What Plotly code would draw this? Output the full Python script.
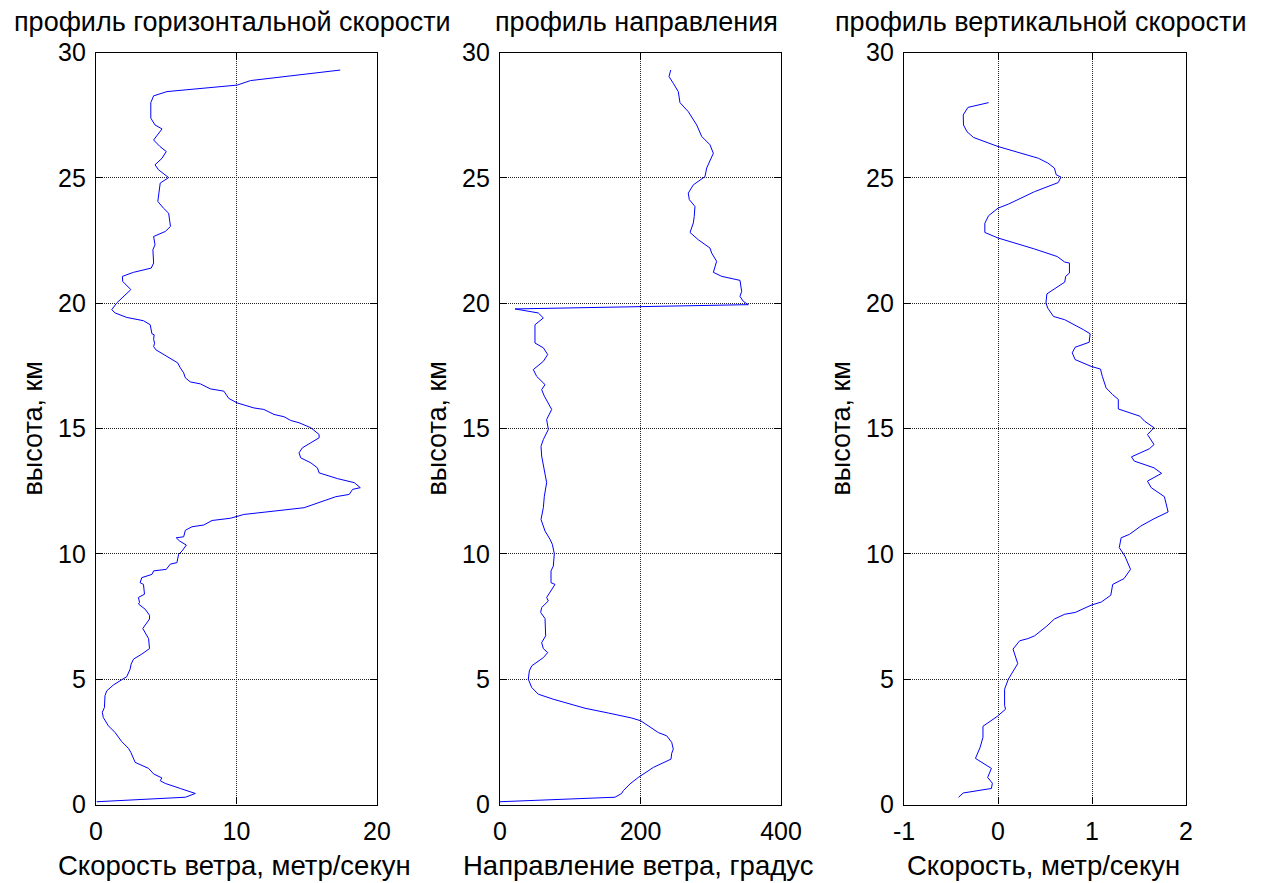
import plotly.graph_objects as go

# ---- data ----
h_speed = [29.30, 28.88, 28.70, 28.44, 28.27, 28.00, 27.38, 27.11, 26.95, 26.51, 26.25, 26.05, 25.78, 25.52,
           25.32, 25.01, 24.79, 24.39, 24.06, 23.79, 23.59, 23.06, 22.86, 22.66, 22.33, 22.13, 21.60, 21.40,
           21.23, 21.07, 20.87, 20.54, 20.21, 20.01, 19.74, 19.61, 19.43, 19.30, 19.14, 18.78, 18.74, 18.56,
           18.40, 18.27, 18.14, 17.88, 17.62, 17.42, 17.22, 17.02, 16.86, 16.78, 16.58, 16.49, 16.20, 16.02,
           15.82, 15.76, 15.56, 15.47, 15.32, 15.23, 15.03, 14.76, 14.63, 14.43, 14.23, 14.03, 13.83, 13.63,
           13.43, 13.23, 13.00, 12.84, 12.64, 12.57, 12.37, 12.28, 11.84, 11.57, 11.48, 11.42, 11.33, 11.15,
           11.08, 10.94, 10.68, 10.64, 10.51, 10.35, 10.11, 9.98, 9.65, 9.59, 9.38, 9.32, 9.18, 9.05, 8.85,
           8.78, 8.39, 8.26, 8.06, 8.00, 7.79, 7.55, 7.40, 7.02, 6.62, 6.22, 6.00, 5.80, 5.60, 5.40, 5.10,
           4.93, 4.77, 4.53, 4.34, 3.87, 3.68, 3.47, 3.14, 2.87, 2.68, 2.51, 2.24, 2.08, 1.68, 1.44, 1.22,
           1.06, 0.95, 0.84, 0.64, 0.44, 0.29, 0.11]
speed = [17.38, 11.0, 10.05, 5.05, 4.1, 3.9, 3.9, 4.2, 4.7, 4.1, 4.55, 5.0, 4.7, 4.2,
         4.45, 5.17, 4.57, 4.45, 4.4, 4.8, 5.17, 5.3, 4.93, 4.1, 4.2, 4.05, 4.1, 3.93,
         2.67, 1.88, 1.9, 2.48, 1.83, 1.48, 1.12, 1.36, 2.19, 3.38, 3.86, 3.98, 4.14, 4.1,
         4.17, 4.1, 4.26, 5.05, 5.81, 6.0, 6.24, 6.36, 6.71, 7.43, 8.14, 9.1, 9.45, 10.05,
         11.24, 11.95, 12.67, 13.38, 13.86, 14.45, 15.29, 15.88, 15.88, 15.29, 14.69, 14.45, 14.57, 15.29,
         15.76, 15.88, 17.19, 18.38, 18.81, 18.26, 18.02, 17.07, 14.81, 10.52, 10.05, 9.57, 8.26, 7.67,
         6.83, 6.36, 6.24, 5.71, 5.95, 6.43, 6.12, 5.88, 5.76, 5.29, 5.0, 4.1, 3.98, 3.26, 3.14,
         3.38, 3.45, 3.02, 3.1, 3.02, 3.5, 3.81, 3.81, 3.33, 3.74, 3.81, 3.26, 2.67, 2.5, 2.43, 2.19,
         1.71, 1.24, 0.76, 0.64, 0.6, 0.45, 0.52, 0.88, 1.36, 1.6, 1.83, 2.31, 2.48, 2.79, 3.74, 4.1,
         4.69, 4.57, 4.93, 6.0, 7.07, 6.36, 0.05]

h_dir = [29.30, 29.04, 28.77, 28.44, 28.00, 27.64, 27.11, 26.65, 26.32, 25.98, 25.39, 25.05, 24.72, 24.39,
         24.13, 23.86, 23.46, 23.20, 22.82, 22.53, 22.20, 22.00, 21.67, 21.23, 21.07, 20.91, 20.47, 20.27,
         20.07, 19.94, 19.77, 19.61, 19.41, 19.14, 18.41, 18.22, 17.95, 17.68, 17.35, 17.08, 16.75, 16.55,
         16.29, 15.76, 15.36, 14.96, 14.56, 14.29, 13.90, 13.37, 12.84, 12.30, 11.84, 11.37, 10.91, 10.58,
         10.38, 10.01, 9.51, 9.32, 8.85, 8.78, 8.52, 8.26, 8.12, 7.86, 7.66, 7.42, 6.73, 6.46, 6.22, 6.06,
         5.86, 5.53, 5.33, 5.00, 4.67, 4.40, 4.20, 4.00, 3.84, 3.65, 3.45, 3.34, 3.14, 2.87, 2.74, 2.48,
         2.21, 2.04, 1.81, 1.48, 1.08, 0.82, 0.55, 0.44, 0.29, 0.11]
direction = [243, 240.6, 246.7, 253.8, 256.2, 268, 280, 287.1, 298.9, 303.7, 294.2, 291.8, 275.2, 268,
             269.5, 277.5, 276.5, 275.2, 270.5, 282.3, 298.9, 301.3, 308.4, 303.7, 315.6, 341.6, 344, 341.6,
             346.4, 353.5, 21.4, 54.5, 61.7, 49.8, 49.8, 61.7, 67.9, 61.7, 47.4, 52.2, 64.1, 59.3,
             63.1, 73.6, 66.4, 68.8, 61.7, 58.4, 59.3, 63.1, 66.4, 63.1, 61.7, 58.4, 64.1, 71.2,
             74.5, 77.3, 75.9, 72.6, 72.6, 78.3, 72.6, 66.4, 68.8, 59.3, 57.9, 64.1, 65.0, 59.3, 61.7, 67.9,
             61.7, 45.1, 41.8, 40.3, 45.1, 54.5, 75.9, 102, 121, 154.2, 187.5, 200.3, 211.1, 225.4, 237.3, 244.4,
             246.7, 244.4, 243.4, 218.3, 196.9, 185, 175.5, 173.2, 163.7, 0]

h_vert = [28.00, 27.81, 27.51, 27.11, 26.84, 26.61, 26.25, 25.78, 25.59, 25.39, 25.12, 25.03, 24.81, 24.45,
          23.95, 23.79, 23.49, 23.19, 22.82, 22.60, 22.16, 21.86, 21.64, 21.60, 21.20, 21.07, 20.84, 20.61,
          20.37, 20.00, 19.80, 19.47, 19.34, 18.94, 18.78, 18.44, 18.37, 18.24, 18.02, 17.75, 17.48, 17.37,
          17.08, 16.62, 16.35, 16.16, 15.78, 15.62, 15.49, 15.29, 15.03, 14.76, 14.36, 14.19, 13.87, 13.70,
          13.43, 13.21, 12.90, 12.64, 12.28, 11.67, 11.40, 11.11, 10.78, 10.64, 10.25, 9.91, 9.38, 9.01,
          8.78, 8.35, 8.08, 7.95, 7.66, 7.59, 7.40, 7.12, 6.73, 6.62, 6.53, 6.20, 5.62, 5.00, 4.60, 3.96,
          3.80, 3.51, 3.27, 3.12, 2.68, 2.28, 1.84, 1.44, 1.08, 0.85, 0.64, 0.46, 0.29]
vert = [-0.10, -0.32, -0.37, -0.367, -0.33, -0.26, 0.0, 0.43, 0.53, 0.60, 0.62, 0.67, 0.64, 0.39,
        0.11, 0.0, -0.10, -0.14, -0.14, 0.0, 0.39, 0.63, 0.71, 0.76, 0.76, 0.72, 0.71, 0.62,
        0.52, 0.51, 0.53, 0.59, 0.71, 0.91, 0.98, 0.97, 0.91, 0.82, 0.79, 0.82, 0.99, 1.09,
        1.11, 1.15, 1.22, 1.28, 1.28, 1.42, 1.51, 1.56, 1.66, 1.59, 1.66, 1.61, 1.42, 1.45,
        1.66, 1.74, 1.59, 1.63, 1.77, 1.81, 1.66, 1.52, 1.40, 1.31, 1.29, 1.35, 1.41, 1.34,
        1.22, 1.20, 1.10, 0.99, 0.82, 0.71, 0.60, 0.52, 0.39, 0.32, 0.23, 0.16, 0.21, 0.11, 0.07, 0.07,
        0.08, -0.01, -0.10, -0.16, -0.16, -0.19, -0.24, -0.07, -0.11, -0.06, -0.07, -0.37, -0.42]

titles = ["профиль горизонтальной скорости", "профиль направления", "профиль вертикальной скорости"]
x_titles = ["Скорость ветра, метр/секун", "Направление ветра, градус", "Скорость, метр/секун"]
y_title = "высота, км"

x_ranges = [[0, 20], [0, 400], [-1, 2]]
x_tickvals = [[0, 10, 20], [0, 200, 400], [-1, 0, 1, 2]]
x_ticktext = [["0", "10", "20"], ["0", "200", "400"], ["-1", "0", "1", "2"]]
y_tickvals = [0, 5, 10, 15, 20, 25, 30]
y_ticktext = ["0", "5", "10", "15", "20", "25", "30"]

# ---- layout geometry (target pixels in the 1265x883 window) ----
OFF = 8                       # page body margin
W, H = 1265 - OFF, 883 - OFF  # figure size so that it fits the window
FONT = "Liberation Sans, Arial, sans-serif"
FS_TICK = 25
FS_TEXT = 27
FS_XLAB = 27.5
x_px = [(96, 377), (500, 781), (904, 1186)]
y_top, y_bot = 52.5, 804.5


def fx(px):
    return (px - OFF) / W


def fy(py):
    return 1 - (py - OFF) / H


fig = go.Figure()

series = [(speed, h_speed), (direction, h_dir), (vert, h_vert)]
for i, (xs, ys) in enumerate(series):
    n = "" if i == 0 else str(i + 1)
    fig.add_trace(go.Scatter(x=xs, y=ys, mode="lines",
                             line=dict(color="#0000ff", width=1),
                             xaxis="x" + n, yaxis="y" + n, showlegend=False,
                             hoverinfo="skip"))
    axis_common = dict(showline=True, linecolor="black", linewidth=1.3, mirror="allticks",
                       ticks="inside", ticklen=7, tickwidth=1.3, tickcolor="black",
                       showgrid=True, gridcolor="#222222", griddash="1px,1px", gridwidth=1,
                       zeroline=False, automargin=False,
                       tickfont=dict(family=FONT, size=FS_TICK, color="black"),
                       fixedrange=True)
    fig.update_layout({
        "xaxis" + n: dict(domain=[fx(x_px[i][0]), fx(x_px[i][1])], range=x_ranges[i],
                          tickmode="array", tickvals=x_tickvals[i], ticktext=x_ticktext[i],
                          anchor="y" + n, ticklabelstandoff=4, **axis_common),
        "yaxis" + n: dict(domain=[fy(y_bot), fy(y_top)], range=[0, 30],
                          tickmode="array", tickvals=y_tickvals, ticktext=y_ticktext,
                          anchor="x" + n, ticklabelstandoff=4, **axis_common),
    })
    cxp = (x_px[i][0] + x_px[i][1]) / 2
    fig.add_annotation(text=titles[i], x=fx(cxp - 4), y=fy(22), xref="paper", yref="paper",
                       showarrow=False, xanchor="center", yanchor="middle",
                       font=dict(family=FONT, size=FS_TEXT, color="black"))
    fig.add_annotation(text=x_titles[i], x=fx(cxp - 2), y=fy(882), xref="paper", yref="paper",
                       showarrow=False, xanchor="center", yanchor="bottom", borderpad=0,
                       font=dict(family=FONT, size=FS_XLAB, color="black"))
    fig.add_annotation(text=y_title, x=fx(x_px[i][0] - 64), y=fy((y_top + y_bot) / 2),
                       xref="paper", yref="paper", textangle=-90,
                       showarrow=False, xanchor="center", yanchor="middle",
                       font=dict(family=FONT, size=FS_TEXT, color="black"))

fig.update_layout(template="none", width=W, height=H,
                  margin=dict(l=0, r=0, t=0, b=0, autoexpand=False),
                  paper_bgcolor="white", plot_bgcolor="white",
                  font=dict(family=FONT, size=FS_TICK, color="black"))

fig.write_html("out.html")
